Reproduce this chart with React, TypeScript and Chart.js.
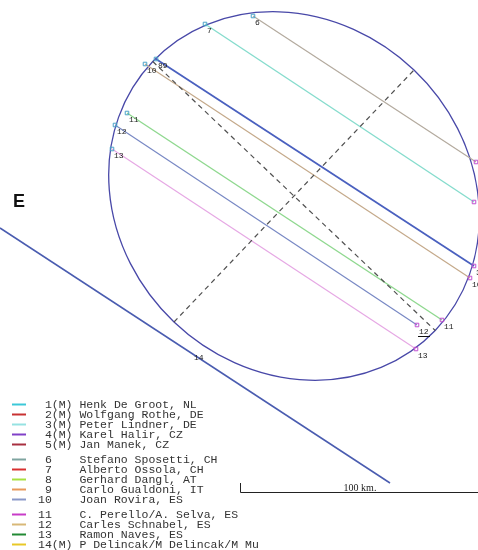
import React, { useEffect, useRef } from 'react';
import { Chart, registerables } from 'chart.js';
Chart.register(...registerables);

// Plot units: fundamental-plane coordinates (1 unit = 1/2.38 km), y grows downward
const chordStartText = ['6', '7', '89', '10', '11', '12', '13'];
const chordEndText = ['', '', '3', '10', '11', '12', '13'];
const chordStartX = [253, 205, 156, 145, 127, 115, 112];
const chordStartY = [16, 24, 59, 64, 113, 125, 149];
const chordEndX = [476, 474, 474, 470, 442, 417, 416];
const chordEndY = [162, 202, 266, 278, 320, 325, 349];
const chordColors = ['#b3aa9e', '#86dccd', '#4a60bf', '#c4a98a', '#8fd88f', '#7888c4', '#e6a8e4'];
const chordWidths = [1.2, 1.4, 1.8, 1.2, 1.4, 1.2, 1.2];

const missX = [0, 390];
const missY = [228, 483];
const missText = '14';

const ellipseCenterX = 294;
const ellipseCenterY = 196;
const ellipseMajor = 195;
const ellipseMinor = 174;
const ellipseAngleDeg = 43.6;

const unitsPerKm = 2.38;
const scaleBarKm = 100;

const legendNums = ['1', '2', '3', '4', '5', '6', '7', '8', '9', '10', '11', '12', '13', '14'];
const legendMoving = [true, true, true, true, true, false, false, false, false, false, false, false, false, true];
const legendNames = [
  'Henk De Groot, NL',
  'Wolfgang Rothe, DE',
  'Peter Lindner, DE',
  'Karel Halir, CZ',
  'Jan Manek, CZ',
  'Stefano Sposetti, CH',
  'Alberto Ossola, CH',
  'Gerhard Dangl, AT',
  'Carlo Gualdoni, IT',
  'Joan Rovira, ES',
  'C. Perello/A. Selva, ES',
  'Carles Schnabel, ES',
  'Ramon Naves, ES',
  'P Delincak/M Delincak/M Mu',
];
const legendColors = ['#3cc8d8', '#c83232', '#96e2e2', '#8040c8', '#a83040', '#7fa4a0', '#d83030', '#a8e040', '#e8985a', '#8a98c8', '#c83cc8', '#d8b878', '#228a34', '#e8c828'];

export default function App() {
  const ref = useRef<HTMLCanvasElement | null>(null);
  useEffect(() => {
    const canvas = ref.current;
    if (!canvas) return;
    const rad = (ellipseAngleDeg * Math.PI) / 180;
    const c = Math.cos(rad), s = Math.sin(rad);
    const majorAxis = [
      { x: ellipseCenterX - ellipseMajor * c, y: ellipseCenterY - ellipseMajor * s },
      { x: ellipseCenterX + ellipseMajor * c, y: ellipseCenterY + ellipseMajor * s },
    ];
    const minorAxis = [
      { x: ellipseCenterX - ellipseMinor * s, y: ellipseCenterY + ellipseMinor * c },
      { x: ellipseCenterX + ellipseMinor * s, y: ellipseCenterY - ellipseMinor * c },
    ];
    const datasets: any[] = [];
    datasets.push({ data: majorAxis, showLine: true, borderColor: '#505050', borderWidth: 1.2, borderDash: [5, 4], pointRadius: 0 });
    datasets.push({ data: minorAxis, showLine: true, borderColor: '#505050', borderWidth: 1.2, borderDash: [5, 4], pointRadius: 0 });
    chordStartX.forEach((_, i) => {
      datasets.push({
        data: [
          { x: chordStartX[i], y: chordStartY[i] },
          { x: chordEndX[i], y: chordEndY[i] },
        ],
        showLine: true,
        borderColor: chordColors[i],
        borderWidth: chordWidths[i],
        pointStyle: 'rect',
        pointRadius: 2.5,
        pointBorderWidth: 1,
        pointBorderColor: ['#4aa2c8', '#c050d0'],
        pointBackgroundColor: 'rgba(0,0,0,0)',
      });
    });
    datasets.push({
      data: [
        { x: missX[0], y: missY[0] },
        { x: missX[1], y: missY[1] },
      ],
      showLine: true,
      borderColor: '#4a5cb0',
      borderWidth: 1.5,
      pointRadius: 0,
    });

    const drawPlugin = {
      id: 'occult',
      beforeDatasetsDraw(chart: any) {
        const ctx = chart.ctx;
        const xs = chart.scales.x, ys = chart.scales.y;
        const k = Math.abs(xs.getPixelForValue(1) - xs.getPixelForValue(0));
        ctx.save();
        ctx.beginPath();
        ctx.ellipse(xs.getPixelForValue(ellipseCenterX), ys.getPixelForValue(ellipseCenterY), ellipseMajor * k, ellipseMinor * k, rad, 0, Math.PI * 2);
        ctx.strokeStyle = '#4848a8';
        ctx.lineWidth = 1.3;
        ctx.stroke();
        ctx.restore();
      },
      afterDatasetsDraw(chart: any) {
        const ctx = chart.ctx;
        const xs = chart.scales.x, ys = chart.scales.y;
        const k = Math.abs(xs.getPixelForValue(1) - xs.getPixelForValue(0));
        ctx.save();
        ctx.fillStyle = '#222';
        ctx.font = '8px "Liberation Mono", monospace';
        ctx.textBaseline = 'top';
        ctx.textAlign = 'left';
        chordStartX.forEach((_, i) => {
          ctx.fillText(chordStartText[i], xs.getPixelForValue(chordStartX[i]) + 2, ys.getPixelForValue(chordStartY[i]) + 3);
          if (chordEndText[i]) ctx.fillText(chordEndText[i], xs.getPixelForValue(chordEndX[i]) + 2, ys.getPixelForValue(chordEndY[i]) + 3);
        });
        // underline under end label 12
        const u12 = chordEndText.indexOf('12');
        const ux = xs.getPixelForValue(chordEndX[u12]);
        const uy = ys.getPixelForValue(chordEndY[u12]);
        ctx.beginPath();
        ctx.moveTo(ux + 1, uy + 11.5);
        ctx.lineTo(ux + 13, uy + 11.5);
        ctx.strokeStyle = '#111';
        ctx.lineWidth = 1;
        ctx.stroke();
        // miss label
        const mx = (missX[0] + missX[1]) / 2 + 2;
        const my = missY[0] + ((mx - missX[0]) * (missY[1] - missY[0])) / (missX[1] - missX[0]);
        ctx.fillText(missText, xs.getPixelForValue(mx) - 3, ys.getPixelForValue(my) - 3);
        // E direction
        ctx.font = 'bold 18px "Liberation Sans", Arial, sans-serif';
        ctx.textBaseline = 'alphabetic';
        ctx.fillStyle = '#111';
        ctx.fillText('E', 13, 207);
        // scale bar
        const x0 = 240.5, yb = 492.5;
        ctx.beginPath();
        ctx.moveTo(x0, 483);
        ctx.lineTo(x0, yb);
        ctx.lineTo(x0 + scaleBarKm * unitsPerKm * k, yb);
        ctx.strokeStyle = '#222';
        ctx.lineWidth = 1;
        ctx.stroke();
        ctx.font = '10px "Liberation Serif", serif';
        ctx.textAlign = 'center';
        ctx.fillStyle = '#222';
        ctx.fillText(scaleBarKm + ' km.', 360, 491);
        // legend
        ctx.textAlign = 'left';
        ctx.textBaseline = 'middle';
        ctx.font = '11.5px "Liberation Mono", "Courier New", monospace';
        ctx.save();
        ctx.beginPath();
        ctx.rect(0, 390, 258, 160);
        ctx.clip();
        legendNums.forEach((n, i) => {
          const y = 404 + i * 10 + Math.floor(i / 5) * 5;
          ctx.beginPath();
          ctx.moveTo(12, y + 0.5);
          ctx.lineTo(26, y + 0.5);
          ctx.strokeStyle = legendColors[i];
          ctx.lineWidth = 2;
          ctx.stroke();
          const t = n.padStart(2, ' ') + (legendMoving[i] ? '(M)' : '   ') + ' ' + legendNames[i];
          ctx.fillStyle = '#333';
          ctx.fillText(t, 38, y + 1);
        });
        ctx.restore();
        ctx.restore();
      },
    };

    const chart = new Chart(canvas, {
      type: 'scatter',
      data: { datasets },
      options: {
        animation: false,
        responsive: false,
        layout: { padding: 0, autoPadding: false },
        plugins: { legend: { display: false }, tooltip: { enabled: false } },
        scales: {
          x: { type: 'linear', min: 0, max: 478, display: false },
          y: { type: 'linear', min: 0, max: 550, reverse: true, display: false },
        },
      },
      plugins: [drawPlugin],
    });
    return () => chart.destroy();
  }, []);
  return (
    <div style={{ position: 'fixed', left: 0, top: 0, width: 478, height: 550, background: '#fff' }}>
      <canvas ref={ref} width={478} height={550} />
    </div>
  );
}
